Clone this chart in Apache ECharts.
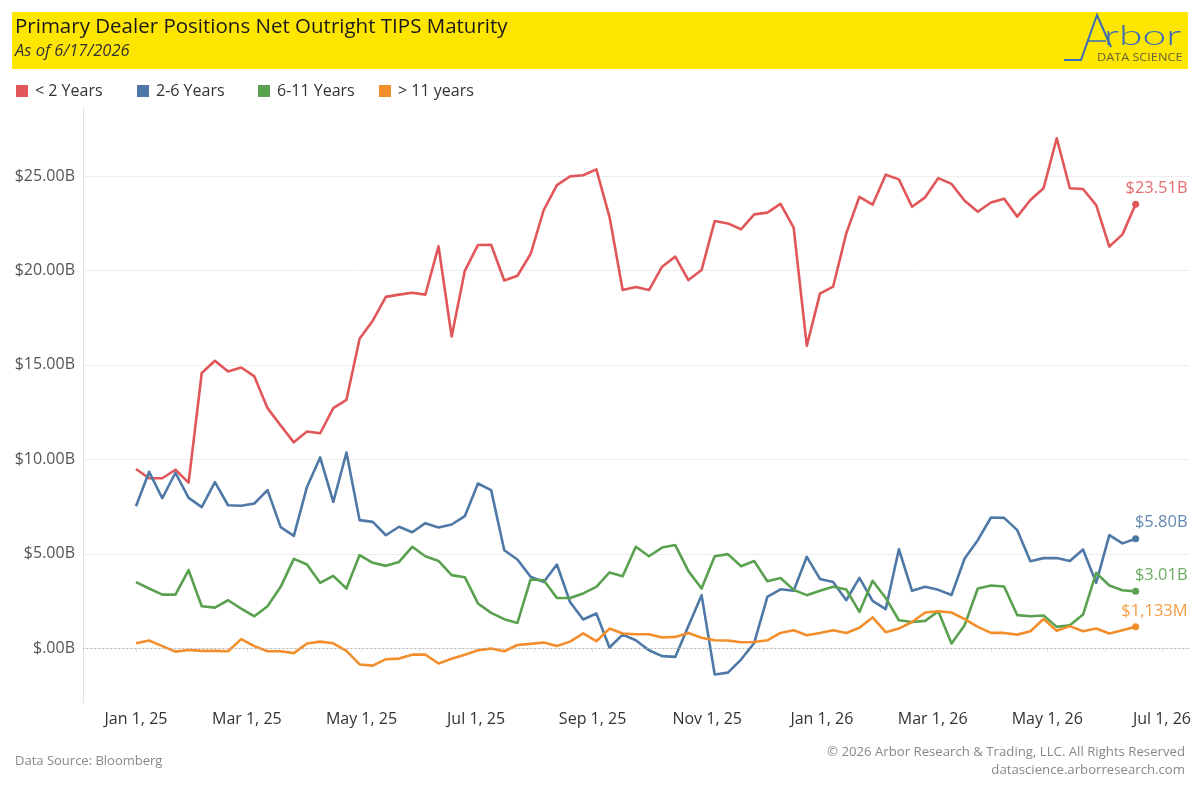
<!DOCTYPE html>
<html><head><meta charset="utf-8">
<script src="https://cdn.jsdelivr.net/npm/echarts@6/dist/echarts.min.js"></script>
<style>html,body{margin:0;padding:0;background:#fff}#c{width:1200px;height:800px}</style>
</head><body><div id="c"></div>
<script>
const TITLE = 'Primary Dealer Positions Net Outright TIPS Maturity';
const SUBTITLE = 'As of 6/17/2026';
const SERIES_NAMES = ['< 2 Years', '2-6 Years', '6-11 Years', '> 11 years'];
const COLORS = ['#E15759', '#4E79A7', '#59A14F', '#F28E2B'];
const FIRST_WEEK = [2025, 0, 1];
const LT2 = [9.49, 9.0, 9.0, 9.45, 8.77, 14.57, 15.22, 14.65, 14.86, 14.39, 12.71, 11.79, 10.9, 11.47, 11.38, 12.71, 13.15, 16.38, 17.34, 18.6, 18.72, 18.82, 18.72, 21.28, 16.5, 19.98, 21.35, 21.36, 19.47, 19.72, 20.87, 23.2, 24.52, 24.98, 25.04, 25.35, 22.84, 18.96, 19.12, 18.96, 20.2, 20.73, 19.49, 20.02, 22.62, 22.49, 22.18, 22.97, 23.06, 23.52, 22.27, 16.01, 18.77, 19.14, 21.96, 23.9, 23.48, 25.07, 24.82, 23.37, 23.87, 24.89, 24.58, 23.69, 23.11, 23.6, 23.8, 22.85, 23.73, 24.35, 27.0, 24.35, 24.31, 23.46, 21.26, 21.91, 23.51];
const Y2_6 = [7.52, 9.34, 7.94, 9.29, 7.96, 7.47, 8.79, 7.57, 7.54, 7.66, 8.37, 6.41, 5.95, 8.54, 10.1, 7.75, 10.36, 6.78, 6.69, 5.98, 6.43, 6.14, 6.62, 6.39, 6.55, 6.99, 8.72, 8.37, 5.19, 4.7, 3.78, 3.51, 4.43, 2.45, 1.52, 1.84, 0.04, 0.72, 0.42, -0.11, -0.42, -0.46, 1.18, 2.81, -1.39, -1.29, -0.6, 0.28, 2.72, 3.12, 3.04, 4.84, 3.67, 3.5, 2.54, 3.72, 2.51, 2.07, 5.24, 3.04, 3.25, 3.09, 2.82, 4.75, 5.72, 6.92, 6.9, 6.25, 4.61, 4.77, 4.78, 4.62, 5.23, 3.46, 5.99, 5.55, 5.80];
const Y6_11 = [3.5, 3.16, 2.84, 2.84, 4.13, 2.22, 2.15, 2.54, 2.1, 1.69, 2.22, 3.25, 4.73, 4.43, 3.46, 3.83, 3.16, 4.93, 4.52, 4.36, 4.57, 5.37, 4.87, 4.62, 3.87, 3.76, 2.37, 1.87, 1.54, 1.34, 3.64, 3.6, 2.66, 2.66, 2.9, 3.25, 4.01, 3.81, 5.37, 4.87, 5.33, 5.46, 4.08, 3.16, 4.87, 4.98, 4.34, 4.62, 3.55, 3.72, 3.09, 2.81, 3.04, 3.25, 3.11, 1.92, 3.57, 2.66, 1.48, 1.39, 1.45, 1.96, 0.25, 1.22, 3.16, 3.32, 3.27, 1.75, 1.69, 1.73, 1.13, 1.22, 1.78, 3.99, 3.32, 3.07, 3.01];
const GT11 = [0.26, 0.41, 0.11, -0.18, -0.09, -0.14, -0.14, -0.16, 0.48, 0.11, -0.16, -0.16, -0.26, 0.25, 0.35, 0.26, -0.14, -0.86, -0.92, -0.58, -0.55, -0.34, -0.34, -0.81, -0.56, -0.34, -0.11, -0.02, -0.16, 0.17, 0.23, 0.3, 0.12, 0.35, 0.79, 0.37, 1.04, 0.78, 0.74, 0.74, 0.57, 0.6, 0.81, 0.55, 0.42, 0.41, 0.32, 0.33, 0.42, 0.81, 0.95, 0.69, 0.81, 0.95, 0.81, 1.08, 1.63, 0.85, 1.04, 1.39, 1.89, 1.96, 1.89, 1.54, 1.13, 0.81, 0.81, 0.72, 0.9, 1.55, 0.92, 1.17, 0.9, 1.04, 0.78, 0.95, 1.133];
const Y_TICKS = [0, 5, 10, 15, 20, 25];
const X_TICK_MONTHS = [[2025,0],[2025,1],[2025,2],[2025,3],[2025,4],[2025,5],[2025,6],[2025,7],[2025,8],[2025,9],[2025,10],[2025,11],[2026,0],[2026,1],[2026,2],[2026,3],[2026,4],[2026,5],[2026,6]];
const X_LABEL_MONTHS = [[2025,0],[2025,2],[2025,4],[2025,6],[2025,8],[2025,10],[2026,0],[2026,2],[2026,4],[2026,6]];
const MONTHS = ['Jan','Feb','Mar','Apr','May','Jun','Jul','Aug','Sep','Oct','Nov','Dec'];
const SOURCE = 'Data Source: Bloomberg';
const COPYRIGHT = '\u00A9 2026 Arbor Research & Trading, LLC. All Rights Reserved';
const SITE = 'datascience.arborresearch.com';

const DAY = 86400000;
const t0 = Date.UTC(FIRST_WEEK[0], FIRST_WEEK[1], FIRST_WEEK[2]);
const DATES = LT2.map((_, i) => t0 + i * 7 * DAY);
const FONT = 'Open Sans';

function fmtEnd(v) {
  if (Math.abs(v) >= 2) return '$' + v.toFixed(2) + 'B';
  return '$' + Math.round(v * 1000).toLocaleString('en-US') + 'M';
}
function mkSeries(name, vals, color) {
  const n = vals.length;
  return {
    name: name, type: 'line', z: 3,
    symbol: 'none', showSymbol: true, silent: true,
    lineStyle: { width: 2.6, color: color, join: 'round' },
    itemStyle: { color: color },
    emphasis: { disabled: true },
    data: vals.map((v, i) => {
      if (i < n - 1) return [DATES[i], v];
      return {
        value: [DATES[i], v], symbol: 'circle', symbolSize: 7,
        label: {
          show: true, position: 'top', align: 'right', distance: 4,
          offset: [52, 0], color: color, opacity: 0.88,
          fontFamily: FONT, fontSize: 16.5, formatter: fmtEnd(v)
        }
      };
    })
  };
}

const chart = echarts.init(document.getElementById('c'), null, { renderer: 'canvas' });
const option = {
  animation: false,
  backgroundColor: '#ffffff',
  textStyle: { fontFamily: FONT },
  grid: { left: 83, right: 11, top: 108, bottom: 97, containLabel: false },
  legend: SERIES_NAMES.map((nm, i) => ({
    left: 16 + 121 * i, top: 83, padding: 0, icon: 'rect', itemWidth: 12, itemHeight: 12,
    selectedMode: false, data: [nm],
    textStyle: { fontSize: 16, color: '#333', fontFamily: FONT, padding: [0, 0, 0, 2] }
  })),
  xAxis: {
    type: 'value',
    min: t0 - 28.2 * DAY, max: t0 + 560.4 * DAY,
    axisLine: { show: true, lineStyle: { color: '#e3e3e3', width: 1 } },
    axisTick: { show: true, length: 4, lineStyle: { color: '#e3e3e3' },
      customValues: X_TICK_MONTHS.map(m => Date.UTC(m[0], m[1], 1)) },
    axisLabel: {
      customValues: X_LABEL_MONTHS.map(m => Date.UTC(m[0], m[1], 1)),
      color: '#333', fontSize: 16, fontFamily: FONT, margin: 8,
      formatter: v => { const d = new Date(v); return MONTHS[d.getUTCMonth()] + ' 1, ' + String(d.getUTCFullYear()).slice(2); }
    },
    splitLine: { show: false }
  },
  yAxis: {
    type: 'value', min: -2.9, max: 28.6,
    axisLine: { show: true, lineStyle: { color: '#e3e3e3', width: 1 } },
    axisTick: { show: false, customValues: Y_TICKS },
    axisLabel: {
      customValues: Y_TICKS, color: '#555', fontSize: 16, fontFamily: FONT, margin: 8,
      formatter: v => v === 0 ? '$.00B' : '$' + v.toFixed(2) + 'B'
    },
    splitLine: { show: true, lineStyle: { color: ['rgba(0,0,0,0)', '#ededed', '#ededed', '#ededed', '#ededed', '#ededed'], width: 1 } }
  },
  series: [
    { name: '_zero', type: 'line', data: [], z: 1, silent: true,
      markLine: { silent: true, symbol: 'none', label: { show: false },
        lineStyle: { type: [1, 3], color: '#b0b0b0', width: 1 },
        data: [{ yAxis: 0 }] } },
    mkSeries(SERIES_NAMES[0], LT2, COLORS[0]),
    mkSeries(SERIES_NAMES[1], Y2_6, COLORS[1]),
    mkSeries(SERIES_NAMES[2], Y6_11, COLORS[2]),
    mkSeries(SERIES_NAMES[3], GT11, COLORS[3])
  ],
  graphic: [
    { type: 'rect', left: 12, top: 12, shape: { width: 1176, height: 57 }, style: { fill: '#FFE600' }, z: 0 },
    { type: 'text', left: 15, top: 17, style: { text: TITLE, font: '500 20.5px "Open Sans"', fill: '#1a1a1a' } },
    { type: 'text', left: 15, top: 43, style: { text: SUBTITLE, font: 'italic 16.5px "Open Sans"', fill: '#333' } },
    { type: 'polyline', shape: { points: [[1064, 60], [1081, 60], [1097, 15], [1111, 47]] }, style: { stroke: '#3a6db5', lineWidth: 2, fill: null } },
    { type: 'line', shape: { x1: 1087, y1: 41, x2: 1106, y2: 41 }, style: { stroke: '#3a6db5', lineWidth: 1.5 } },
    { type: 'text', x: 1104, y: 22, scaleX: 1.52, style: { text: 'rbor', font: '300 28px Lato', fill: '#3a6db5' } },
    { type: 'text', x: 1097, y: 52, scaleX: 1.1, style: { text: 'DATA SCIENCE', font: '11.5px "Open Sans"', fill: '#66633a' } },
    { type: 'text', left: 15, top: 755, style: { text: SOURCE, font: '13px "Open Sans"', fill: '#888' } },
    { type: 'text', right: 15, top: 746, style: { text: COPYRIGHT, font: '13.2px "Open Sans"', fill: '#888', align: 'right' } },
    { type: 'text', right: 15, top: 764, style: { text: SITE, font: '13.2px "Open Sans"', fill: '#888', align: 'right' } }
  ]
};
chart.setOption(option);
</script></body></html>
